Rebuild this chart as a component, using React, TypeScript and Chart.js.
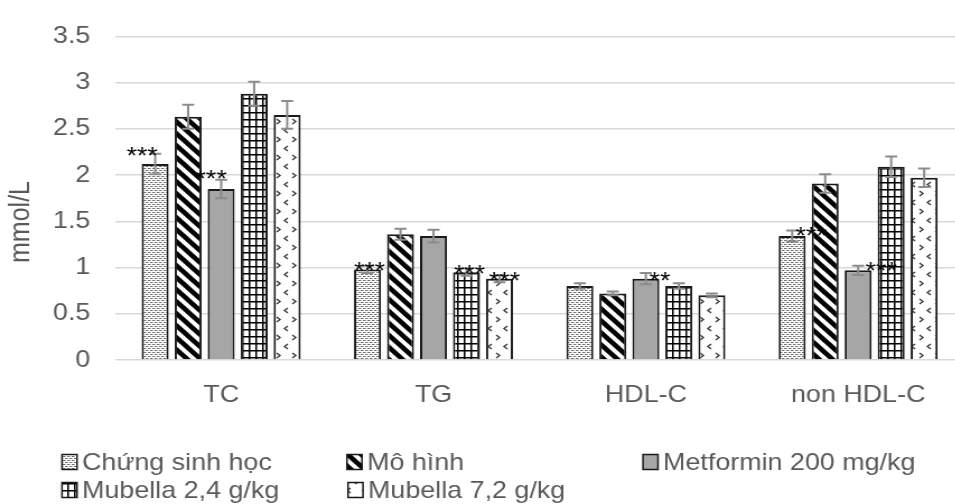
import React, { useEffect, useRef } from "react";
import { Chart, registerables } from "chart.js";

Chart.register(...registerables);

// ---------- data ----------
const categories = ["TC", "TG", "HDL-C", "non HDL-C"];
const seriesNames = [
  "Chứng sinh học",
  "Mô hình",
  "Metformin 200 mg/kg",
  "Mubella 2,4 g/kg",
  "Mubella 7,2 g/kg",
];
const chungSinhHoc = [2.12, 0.98, 0.8, 1.34];
const moHinh = [2.63, 1.36, 0.72, 1.91];
const metformin = [1.85, 1.34, 0.88, 0.97];
const mubella24 = [2.88, 0.95, 0.8, 2.09];
const mubella72 = [2.65, 0.88, 0.7, 1.97];

const errChungSinhHoc = [0.11, 0.04, 0.03, 0.06];
const errMoHinh = [0.13, 0.06, 0.02, 0.1];
const errMetformin = [0.1, 0.07, 0.06, 0.05];
const errMubella24 = [0.13, 0.04, 0.03, 0.11];
const errMubella72 = [0.15, 0.04, 0.02, 0.1];

const sigChungSinhHoc = ["***", "***", "", "***"];
const sigMoHinh = ["", "", "", ""];
const sigMetformin = ["***", "", "**", "***"];
const sigMubella24 = ["", "***", "", ""];
const sigMubella72 = ["", "***", "", ""];

const yMin = 0;
const yMax = 3.5;
const yStep = 0.5;
const yTitle = "mmol/L";

// ---------- style ----------
const S = 1.12; // horizontal stretch of the whole drawing
const W = 861;
const H = 504;
const FONT = "'Liberation Sans', Arial, Helvetica, sans-serif";
const TEXT = "#595959";

// label offsets (screen px) relative to the top-centre of the bar: key "dataset-category"
const sigOffsets: Record<string, [number, number]> = {
  "0-0": [-13, -14],
  "0-1": [2, -4],
  "0-3": [19, -6],
  "2-0": [-10, -16],
  "2-2": [14, -4],
  "2-3": [23, -5],
  "3-1": [3, -4],
  "4-1": [5, -4],
};

const legendPos: [number, number][] = [
  [62, 462],
  [347, 462],
  [643, 462],
  [62, 490],
  [348, 490],
];

function makeTile(w: number, h: number, draw: (c: CanvasRenderingContext2D) => void) {
  const c = document.createElement("canvas");
  c.width = w;
  c.height = h;
  const x = c.getContext("2d")!;
  x.fillStyle = "#ffffff";
  x.fillRect(0, 0, w, h);
  draw(x);
  return c;
}

function makeFills(ctx: CanvasRenderingContext2D): (string | CanvasPattern)[] {
  const dots = makeTile(4, 4, (x) => {
    x.fillStyle = "#6e6e6e";
    x.fillRect(0, 0, 2, 1);
    x.fillRect(2, 2, 2, 1);
    x.fillStyle = "#b5b5b5";
    x.fillRect(0, 2, 1, 1);
    x.fillRect(2, 0, 1, 1);
  });
  const stripes = makeTile(12, 12, (x) => {
    x.strokeStyle = "#000";
    x.lineWidth = 4.5;
    for (const o of [-12, 0, 12]) {
      x.beginPath();
      x.moveTo(o - 2, -2);
      x.lineTo(o + 14, 14);
      x.stroke();
    }
  });
  const grid = makeTile(6, 7, (x) => {
    x.fillStyle = "#000";
    x.fillRect(0, 0, 1.5, 7);
    x.fillRect(0, 0, 6, 1.5);
  });
  const chev = makeTile(14, 18, (x) => {
    x.strokeStyle = "#3a3a3a";
    x.lineWidth = 1.4;
    x.beginPath();
    x.moveTo(5, 2);
    x.lineTo(2, 4.5);
    x.lineTo(5, 7);
    x.moveTo(9, 11);
    x.lineTo(12, 13.5);
    x.lineTo(9, 16);
    x.stroke();
  });
  return [
    ctx.createPattern(dots, "repeat")!,
    ctx.createPattern(stripes, "repeat")!,
    "#a6a6a6",
    ctx.createPattern(grid, "repeat")!,
    ctx.createPattern(chev, "repeat")!,
  ];
}

const extrasPlugin = {
  id: "extras",
  afterDatasetsDraw(chart: any) {
    const ctx: CanvasRenderingContext2D = chart.ctx;
    const ys = chart.scales.y;
    chart.data.datasets.forEach((ds: any, i: number) => {
      const meta = chart.getDatasetMeta(i);
      meta.data.forEach((bar: any, j: number) => {
        const v = ds.data[j];
        const e = ds.errors[j];
        const yt = ys.getPixelForValue(v + e);
        const yb = ys.getPixelForValue(v - e);
        const hw = 6 / S;
        ctx.save();
        ctx.strokeStyle = "#8c8c8c";
        ctx.lineWidth = 2;
        ctx.beginPath();
        ctx.moveTo(bar.x, yt);
        ctx.lineTo(bar.x, yb);
        ctx.moveTo(bar.x - hw, yt);
        ctx.lineTo(bar.x + hw, yt);
        ctx.moveTo(bar.x - hw, yb);
        ctx.lineTo(bar.x + hw, yb);
        ctx.stroke();
        ctx.restore();
      });
    });
    chart.data.datasets.forEach((ds: any, i: number) => {
      const meta = chart.getDatasetMeta(i);
      meta.data.forEach((bar: any, j: number) => {
        const s = ds.sig[j];
        if (!s) return;
        const off = sigOffsets[`${i}-${j}`] || [0, -10];
        const cx = bar.x + off[0] / S;
        const cy = ys.getPixelForValue(ds.data[j]) + off[1];
        ctx.save();
        ctx.fillStyle = "#000";
        ctx.font = `24px ${FONT}`;
        ctx.textAlign = "center";
        ctx.textBaseline = "alphabetic";
        ctx.fillText(s, cx, cy + 14);
        ctx.restore();
      });
    });
  },
  afterDraw(chart: any) {
    const ctx: CanvasRenderingContext2D = chart.ctx;
    // y axis title
    ctx.save();
    ctx.translate(21 / S, 222);
    ctx.rotate(-Math.PI / 2);
    ctx.fillStyle = TEXT;
    ctx.font = `25px ${FONT}`;
    ctx.textAlign = "center";
    ctx.textBaseline = "middle";
    ctx.fillText(yTitle, 0, 0);
    ctx.restore();
    // legend
    chart.data.datasets.forEach((ds: any, i: number) => {
      const [lx, ly] = legendPos[i];
      const bx = lx / S;
      const bw = 15 / S;
      ctx.save();
      ctx.fillStyle = ds.backgroundColor;
      ctx.fillRect(bx, ly - 7.5, bw, 15);
      ctx.strokeStyle = "#1a1a1a";
      ctx.lineWidth = 1.5;
      ctx.strokeRect(bx, ly - 7.5, bw, 15);
      ctx.fillStyle = TEXT;
      ctx.font = `24px ${FONT}`;
      ctx.textAlign = "left";
      ctx.textBaseline = "middle";
      ctx.fillText(ds.label, (lx + 20) / S, ly + 1);
      ctx.restore();
    });
  },
};

export default function App() {
  const ref = useRef<HTMLCanvasElement>(null);
  useEffect(() => {
    const canvas = ref.current!;
    const ctx = canvas.getContext("2d")!;
    const fills = makeFills(ctx);
    const values = [chungSinhHoc, moHinh, metformin, mubella24, mubella72];
    const errs = [errChungSinhHoc, errMoHinh, errMetformin, errMubella24, errMubella72];
    const sigs = [sigChungSinhHoc, sigMoHinh, sigMetformin, sigMubella24, sigMubella72];
    const chart = new Chart(canvas, {
      type: "bar",
      data: {
        labels: categories,
        datasets: seriesNames.map((name, i) => ({
          label: name,
          data: values[i],
          errors: errs[i],
          sig: sigs[i],
          backgroundColor: fills[i],
          borderColor: "#1a1a1a",
          borderWidth: 2,
          categoryPercentage: 0.777,
          barPercentage: 0.818,
        })) as any,
      },
      options: {
        responsive: false,
        animation: false,
        devicePixelRatio: 1,
        layout: { padding: { top: 27, left: 0, right: 0, bottom: 0 } },
        plugins: { legend: { display: false }, tooltip: { enabled: false } },
        scales: {
          x: {
            grid: { display: false },
            border: { display: false },
            ticks: { color: TEXT, font: { family: FONT, size: 24 }, padding: 13 },
            afterFit: (s: any) => {
              s.height = 144;
            },
          },
          y: {
            min: yMin,
            max: yMax,
            ticks: {
              stepSize: yStep,
              color: TEXT,
              font: { family: FONT, size: 24 },
              padding: 22,
              callback: (v: any) => `${Number(v)}`,
            },
            grid: { color: "#d9d9d9", lineWidth: 1.5, drawTicks: false },
            border: { display: false },
            afterFit: (s: any) => {
              s.width = 115 / S;
            },
          },
        },
      },
      plugins: [extrasPlugin],
    });
    return () => chart.destroy();
  }, []);
  return (
    <div
      style={{
        position: "fixed",
        left: 0,
        top: 0,
        width: 955,
        height: 504,
        overflow: "hidden",
        background: "#fff",
      }}
    >
      <div style={{ transform: `scaleX(${S})`, transformOrigin: "0 0", width: W, height: H }}>
        <canvas ref={ref} width={W} height={H} style={{ display: "block" }} />
      </div>
    </div>
  );
}
